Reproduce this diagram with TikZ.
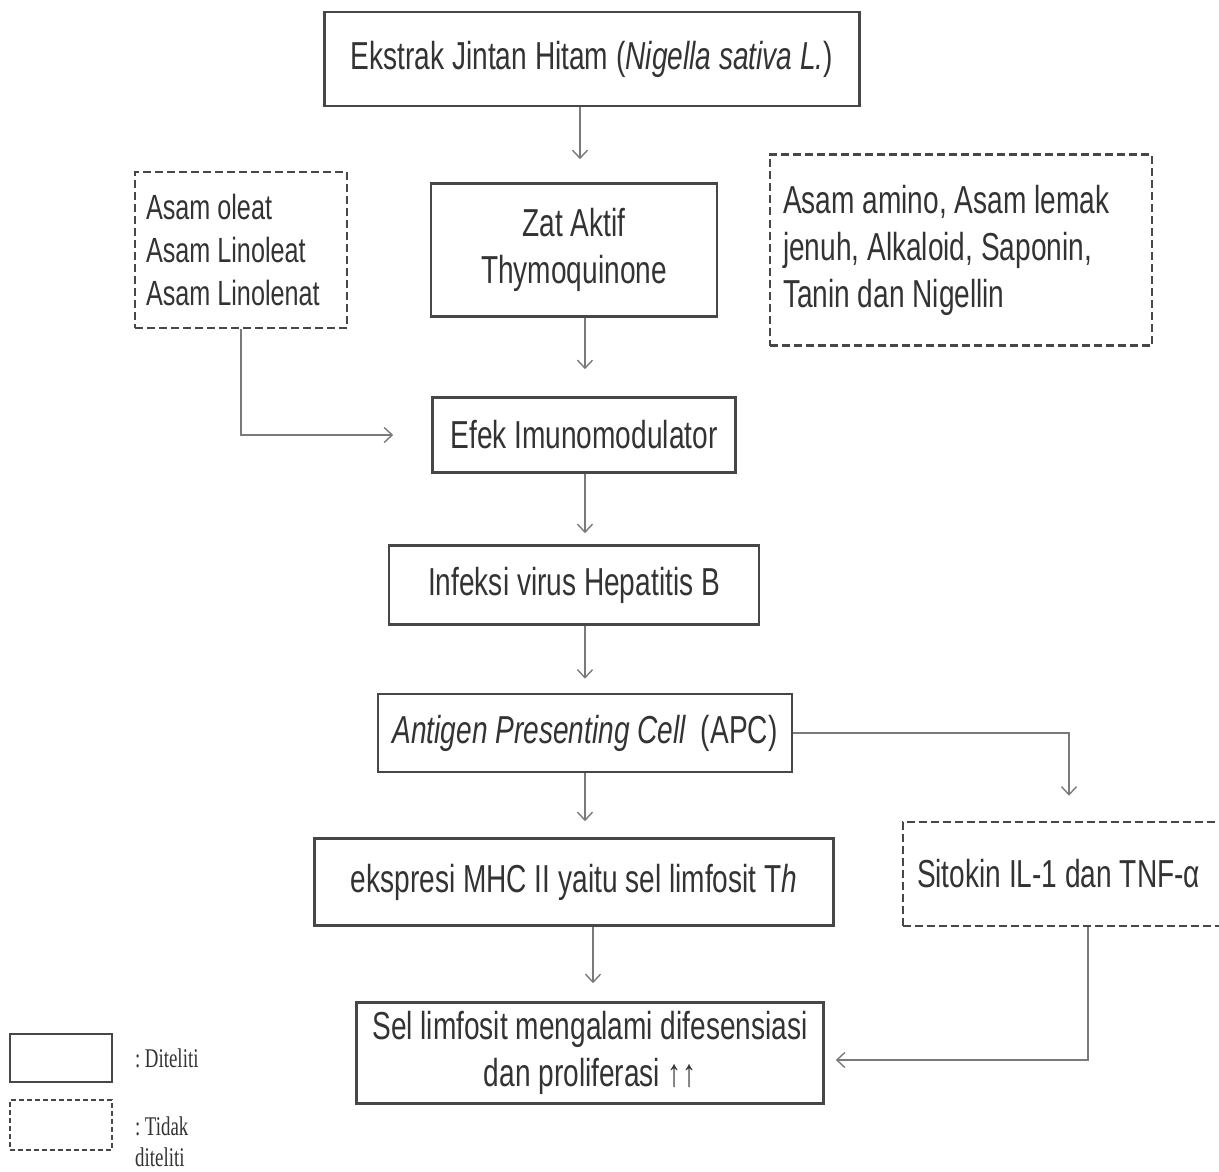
\documentclass[tikz,border=0pt]{standalone}
\usepackage{fontspec}
\setmainfont{Liberation Sans}[FakeStretch=0.72]
\newfontfamily\legendfont{Liberation Serif}[FakeStretch=0.7]
\usetikzlibrary{arrows.meta,positioning,scopes}
\definecolor{boxgray}{HTML}{474747}
\definecolor{txtgray}{HTML}{333333}
\definecolor{arrowgray}{HTML}{7A7A7A}

\begin{document}
\begin{tikzpicture}[
    x=1pt, y=-1pt,
    font=\fontsize{39}{47}\selectfont, text=txtgray,
    box/.style  = { draw=boxgray, line width=2.6pt, align=center, inner sep=6pt },
    dbox/.style = { box, dash pattern=on 8pt off 4pt, align=flush left },
    connect line/.style = { draw=arrowgray, line width=1.4pt,
            -{Straight Barb[length=8pt,width=15pt]} }
]
\useasboundingbox (0,0) rectangle (1219,1172);

% kotak utama
\node[box, minimum width=535, minimum height=94]  (ekstrak) at (592,59)
    {Ekstrak Jintan Hitam (\textit{Nigella sativa L.})};
\node[box, minimum width=286, minimum height=133] (zat) at (574,250)
    {Zat Aktif\\Thymoquinone};
\node[box, minimum width=303, minimum height=75]  (efek) at (584,435)
    {Efek Imunomodulator};
\node[box, minimum width=370, minimum height=79]  (infeksi) at (574,585)
    {Infeksi virus Hepatitis B};
\node[box, minimum width=414, minimum height=78]  (apc) at (585,733)
    {\textit{Antigen Presenting Cell}\, (APC)};
\node[box, minimum width=519, minimum height=87]  (mhc) at (574,882)
    {ekspresi MHC II yaitu sel limfosit T\textit{h}};
\node[box, minimum width=467, minimum height=101] (sel) at (590,1053)
    {Sel limfosit mengalami difesensiasi\\dan proliferasi ↑↑};

% kotak tidak diteliti
\node[dbox, text width=190, inner xsep=11, minimum height=156,
      font=\fontsize{35}{43}\selectfont] (asam) at (241,250)
    {Asam oleat\\Asam Linoleat\\Asam Linolenat};
\node[dbox, text width=356, inner xsep=13, minimum height=191] (lain) at (961,250)
    {Asam amino, Asam lemak\\jenuh, Alkaloid, Saponin,\\Tanin dan Nigellin};
\node[dbox, text width=304, inner xsep=14, minimum height=104] (sitokin) at (1069,874)
    {Sitokin IL-1 dan TNF-α};

% panah
\foreach \a/\b/\x/\g in {ekstrak/zat/580/23, zat/efek/585/27, efek/infeksi/585/11,
    infeksi/apc/585/14, apc/mhc/585/16, mhc/sel/593/18}
  \draw[connect line, shorten >=\g pt] (\x,0 |- \a.south) -- (\x,0 |- \b.north);

\draw[connect line, shorten >=38pt] (asam.south) |- (efek.west);
\draw[connect line, shorten >=25pt] (apc.east) -| (sitokin.north);
\draw[connect line, shorten >=11pt]
  ([xshift=19pt]sitokin.south) |- ([yshift=-7pt]sel.east);

% keterangan
\node[draw=boxgray, line width=2pt, minimum width=102, minimum height=48,
      inner sep=0pt] (diteliti) at (61,1058) {};
\node[draw=boxgray, line width=2pt, dash pattern=on 5pt off 3pt,
      minimum width=102, minimum height=50, inner sep=0pt] (tidak) at (61,1125) {};
{ [every node/.style={font=\legendfont\fontsize{27}{31}\selectfont, inner sep=0pt}]
  \node[right=22pt of diteliti] {:\,Diteliti};
  \node[right=22pt of tidak, anchor=north west, yshift=8pt, align=left]
    {:\,Tidak\\diteliti};
}
\end{tikzpicture}
\end{document}
